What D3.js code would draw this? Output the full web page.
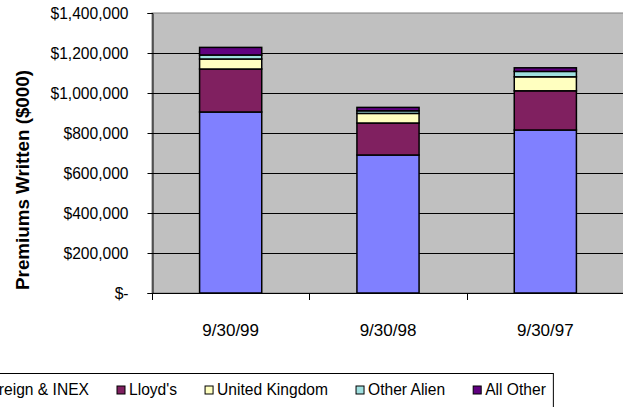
<!DOCTYPE html>
<html>
<head>
<meta charset="utf-8">
<script src="https://cdn.jsdelivr.net/npm/d3@7"></script>
<style>
  html, body { margin: 0; padding: 0; background: #ffffff; }
  svg { display: block; }
  .lbl { font-family: "Liberation Sans", Arial, sans-serif; font-size: 15.6px; fill: #000; }
  .cat { font-family: "Liberation Sans", Arial, sans-serif; font-size: 17px; fill: #000; }
  .ttl { font-family: "Liberation Sans", Arial, sans-serif; font-weight: bold; font-size: 18.8px; fill: #000; }
</style>
</head>
<body>
<script>
// Premiums written ($000) by market, quarter-end dates
const categories = ["9/30/99", "9/30/98", "9/30/97"];
const seriesNames = ["Foreign & INEX", "Lloyd's", "United Kingdom", "Other Alien", "All Other"];
const foreignInex   = [905000, 690000, 815000];
const lloyds        = [215000, 160000, 196000];
const unitedKingdom = [50000, 48000, 70000];
const otherAlien    = [20000, 13000, 27000];
const allOther      = [38000, 17000, 18000];
const yTicks = [0, 200000, 400000, 600000, 800000, 1000000, 1200000, 1400000];
const seriesColors = ["#8080ff", "#802060", "#ffffc0", "#a0e0e0", "#600080"];

const W = 623, H = 407;
const plot = { left: 152, right: 624, top: 13, bottom: 293 };

const svg = d3.select("body").append("svg").attr("width", W).attr("height", H);

// Rows for stacking
const seriesValues = [foreignInex, lloyds, unitedKingdom, otherAlien, allOther];
const rows = categories.map((c, i) => {
  const r = { cat: c };
  seriesNames.forEach((s, k) => { r[s] = seriesValues[k][i]; });
  return r;
});
const stacked = d3.stack().keys(seriesNames)(rows);

const y = d3.scaleLinear().domain([0, 1400000]).range([plot.bottom, plot.top]);
const xCat = d3.scaleBand().domain(categories).range([plot.left, plot.right]);
const xBar = d3.scaleBand().domain(categories).range([plot.left, plot.right])
  .paddingInner(0.605).paddingOuter(0.3025);
const color = d3.scaleOrdinal().domain(seriesNames).range(seriesColors);

// Plot background
svg.append("rect")
  .attr("x", plot.left).attr("y", plot.top)
  .attr("width", plot.right - plot.left).attr("height", plot.bottom - plot.top)
  .attr("fill", "#c0c0c0").attr("stroke", "#808080").attr("stroke-width", 1);

// Horizontal gridlines
svg.append("g").selectAll("line").data(yTicks.filter(d => d > 0 && d < 1400000)).join("line")
  .attr("x1", plot.left).attr("x2", plot.right)
  .attr("y1", d => Math.round(y(d)) + 0.5).attr("y2", d => Math.round(y(d)) + 0.5)
  .attr("stroke", "#000").attr("stroke-width", 1);

// Stacked bars
svg.append("g").selectAll("g").data(stacked).join("g")
  .attr("fill", d => color(d.key))
  .selectAll("rect").data(d => d).join("rect")
  .attr("x", d => xBar(d.data.cat))
  .attr("width", xBar.bandwidth())
  .attr("y", d => y(d[1]))
  .attr("height", d => y(d[0]) - y(d[1]))
  .attr("stroke", "#000").attr("stroke-width", 1.5);

// Y axis
const yAxis = d3.axisLeft(y).tickValues(yTicks).tickSize(5).tickPadding(19)
  .tickFormat(d => d === 0 ? "$-" : "$" + d3.format(",")(d));
const gy = svg.append("g").attr("transform", `translate(${plot.left + 0.5},0)`).call(yAxis);
gy.select(".domain").attr("stroke", "#000");
gy.selectAll(".tick line").attr("stroke", "#000");
gy.selectAll(".tick text").attr("class", "lbl").attr("font-size", null).attr("font-family", null);

// X axis baseline and category boundary ticks
svg.append("line")
  .attr("x1", plot.left).attr("x2", plot.right)
  .attr("y1", plot.bottom + 0.5).attr("y2", plot.bottom + 0.5)
  .attr("stroke", "#000");
const bounds = categories.map(c => xCat(c)).concat([plot.right]);
svg.append("g").selectAll("line").data(bounds).join("line")
  .attr("x1", d => Math.round(d) + 0.5).attr("x2", d => Math.round(d) + 0.5)
  .attr("y1", plot.bottom).attr("y2", plot.bottom + 7)
  .attr("stroke", "#000");
svg.append("g").selectAll("text").data(categories).join("text")
  .attr("class", "cat")
  .attr("x", d => xCat(d) + xCat.bandwidth() / 2)
  .attr("y", 336)
  .attr("text-anchor", "middle")
  .text(d => d);

// Y axis title
svg.append("text").attr("class", "ttl")
  .attr("transform", "translate(29,180) rotate(-90)")
  .attr("text-anchor", "middle")
  .text("Premiums Written ($000)");

// Legend
const legend = svg.append("g");
const items = legend.selectAll("g").data(seriesNames).join("g");
items.append("rect")
  .attr("width", 8).attr("height", 8).attr("y", 386)
  .attr("fill", d => color(d)).attr("stroke", "#000").attr("stroke-width", 1);
items.append("text").attr("class", "lbl")
  .attr("x", 12).attr("y", 390).attr("dy", "0.35em")
  .text(d => d);
let cursor = 0;
const offsets = [];
items.each(function () {
  offsets.push(cursor);
  const tw = d3.select(this).select("text").node().getComputedTextLength();
  cursor += 12 + tw + 28;
});
const shift = 117 - offsets[1];
items.attr("transform", (d, i) => `translate(${offsets[i] + shift},0)`);
const legendRight = offsets[4] + shift + 12 +
  items.filter((d, i) => i === 4).select("text").node().getComputedTextLength() + 8;
legend.insert("rect", ":first-child")
  .attr("x", -60.5).attr("y", 373.5)
  .attr("width", legendRight + 60).attr("height", 60)
  .attr("fill", "#fff").attr("stroke", "#000");
</script>
</body>
</html>
